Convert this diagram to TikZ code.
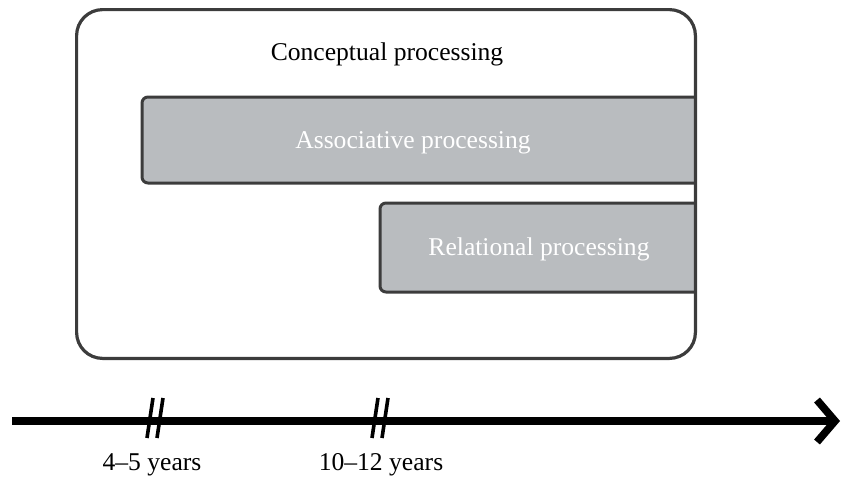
\documentclass[tikz,border=0pt]{standalone}
\usepackage{fontspec}
\setmainfont{Liberation Serif}
\usetikzlibrary{arrows.meta}
\definecolor{boxgray}{HTML}{B9BCBF}
\definecolor{edgegray}{HTML}{3C3C3C}
\begin{document}
\begin{tikzpicture}[x=0.5pt,y=-0.5pt,
        procbox/.style={draw=edgegray, fill=boxgray, line width=1.5pt, rounded corners=3pt, inner sep=0pt},
        slash/.style={line width=1.8pt, black}]
        \fontsize{12.8}{15}\selectfont
        \useasboundingbox (0,0) rectangle (845,477);

        \node (frame) [inner sep=0pt, minimum width=309pt, minimum height=174pt] at (386,184) {};

        \begin{scope}
        \clip[rounded corners=13pt] (frame.south west) rectangle (frame.north east);
        \node (assoc) [procbox, minimum width=284pt, minimum height=43pt] at (426,140) {};
        \node (rel) [procbox, minimum width=165pt, minimum height=44.5pt] at (545,247.5) {};
        \end{scope}
        \draw[edgegray, line width=1.6pt, rounded corners=13pt] (frame.south west) rectangle (frame.north east);

        \node (concepttext) at (387,54) {Conceptual processing};
        \node[white] (assoctext) at (413,143) {Associative processing};
        \node[white] (reltext) at (539,249) {Relational processing};

        % time axis
        \coordinate (start) at (12,421);
        \coordinate (end) at (840,421);
        \draw[line width=3.8pt, -{Straight Barb[length=9pt,width=21pt]}] (start) -- (end);

        \coordinate (t1) at (155,418);
        \coordinate (t2) at (380,418);
        \foreach \t in {t1,t2} {
            \draw[slash] (\t) ++(-8,20) -- ++(6,-40);
            \draw[slash] (\t) ++(2,20) -- ++(6,-40);
        }

        \node (age1) at (152,465) {4--5 years};
        \node (age2) at (381,465) {10--12 years};
\end{tikzpicture}
\end{document}
